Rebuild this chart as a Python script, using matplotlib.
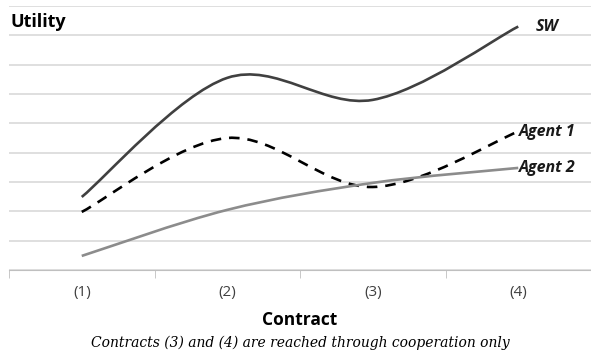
import numpy as np
import matplotlib.pyplot as plt
from matplotlib.path import Path
from matplotlib.patches import PathPatch

contracts = ["(1)", "(2)", "(3)", "(4)"]
sw = [2.49, 6.55, 5.8, 8.3]
agent1 = [1.98, 4.5, 2.83, 4.72]
agent2 = [0.48, 2.05, 2.97, 3.48]


def smooth_path(xs, ys):
    # excel-like smoothed line: catmull-rom segments as cubic beziers
    pts = np.column_stack([xs, ys]).astype(float)
    ext = np.vstack([pts[0], pts, pts[-1]])
    verts = [pts[0]]
    codes = [Path.MOVETO]
    for i in range(len(pts) - 1):
        p0, p1, p2, p3 = ext[i], ext[i + 1], ext[i + 2], ext[i + 3]
        verts += [p1 + (p2 - p0) / 6, p2 - (p3 - p1) / 6, p2]
        codes += [Path.CURVE4] * 3
    return Path(verts, codes)


fig = plt.figure(figsize=(5.91, 3.55), dpi=100)
ax = fig.add_axes([9 / 591, 85 / 355, 582 / 591, 264 / 355])
x = np.arange(len(contracts))

ax.set_xlim(-0.5, 3.5)
ax.set_ylim(0, 9)
ax.set_yticks(np.arange(0, 10, 1))
ax.yaxis.grid(True, color="#d9d9d9", linewidth=1.2)
ax.set_axisbelow(True)
for s in ["top", "right", "left"]:
    ax.spines[s].set_visible(False)
ax.spines["bottom"].set_color("#bfbfbf")
ax.tick_params(axis="y", left=False, labelleft=False)
ax.set_xticks(np.arange(-0.5, 4, 1), minor=True)
ax.tick_params(axis="x", which="minor", length=6, color="#bfbfbf")
ax.tick_params(axis="x", which="major", length=0, pad=11, labelsize=11, labelcolor="#404040")
ax.set_xticks(x)
ax.set_xticklabels(contracts, family="Open Sans")

series = [
    (sw, "#404040", "-", "SW", 1.9),
    (agent1, "black", (0, (4, 3)), "Agent 1", 1.9),
    (agent2, "#8c8c8c", "-", "Agent 2", 1.9),
]
for ys, col, ls, name, lw in series:
    ax.add_patch(PathPatch(smooth_path(x, ys), facecolor="none", edgecolor=col,
                           linestyle=ls, linewidth=lw, capstyle="butt"))

lab = dict(fontsize=11.5, fontweight="bold", style="italic", family="Open Sans",
           va="center", ha="left", color="#1a1a1a")
ax.text(3.12, sw[3], "SW", **lab)
ax.text(3.005, agent1[3], "Agent 1", **lab)
ax.text(3.005, agent2[3], "Agent 2", **lab)

fig.text(10 / 591, 1 - 22 / 355, "Utility", fontsize=13, fontweight="bold",
         family="Open Sans", va="center", ha="left")
fig.text(300 / 591, 1 - 320 / 355, "Contract", fontsize=12.5, fontweight="bold",
         family="Open Sans", va="center", ha="center")
fig.text(300 / 591, 1 - 343 / 355, "Contracts (3) and (4) are reached through cooperation only",
         fontsize=10, style="italic", family="DejaVu Serif", va="center", ha="center")

fig.savefig("out.png", dpi=100)
